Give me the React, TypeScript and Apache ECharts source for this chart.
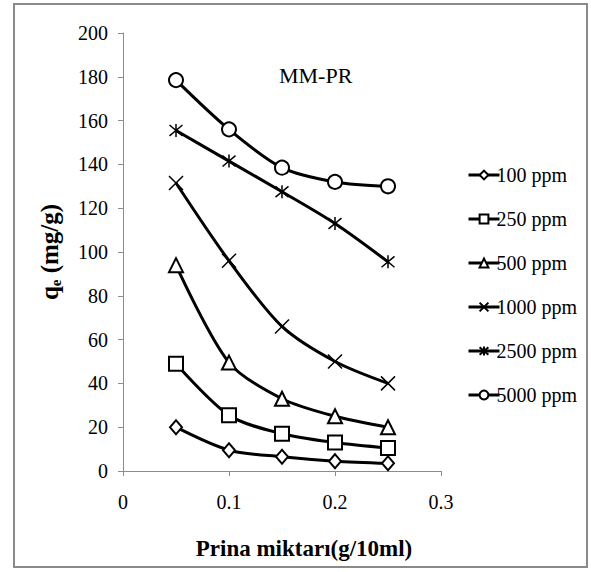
import React, { useEffect, useRef } from "react";
import * as echarts from "echarts";

const xValues = [0.05, 0.1, 0.15, 0.2, 0.25];
const seriesNames = ["100 ppm", "250 ppm", "500 ppm", "1000 ppm", "2500 ppm", "5000 ppm"];
const ppm100 = [20, 9.5, 6.5, 4.5, 3.5];
const ppm250 = [49, 25.5, 17, 13, 10.5];
const ppm500 = [94, 49.5, 33, 25, 20];
const ppm1000 = [131.5, 96, 66, 50, 40];
const ppm2500 = [155.5, 141.5, 127.5, 113, 95.5];
const ppm5000 = [178.5, 156, 138.5, 132, 130];
const seriesValues = [ppm100, ppm250, ppm500, ppm1000, ppm2500, ppm5000];

const X_PATH = "path://M0,0L10,10M10,0L0,10";
const STAR_PATH = "path://M0,0L10,10M10,0L0,10M5,-1L5,11";
const symbols = ["emptyDiamond", "emptyRect", "emptyTriangle", X_PATH, STAR_PATH, "emptyCircle"];
const symbolSizes: any[] = [[12, 14], 14, [14, 14], 14, [13, 13], 14];

const FONT = "'Liberation Serif', 'Times New Roman', serif";

export default function App() {
  const ref = useRef<HTMLDivElement>(null);
  useEffect(() => {
    document.body.style.margin = "0";
    const chart = echarts.init(ref.current!, null, { renderer: "svg" });
    chart.setOption({
      animation: false,
      backgroundColor: "#fff",
      textStyle: { fontFamily: FONT, color: "#000" },
      grid: { left: 123, top: 33, right: 150, bottom: 101 },
      title: {
        text: "MM-PR",
        left: 274,
        top: 59,
        textStyle: { fontFamily: FONT, fontWeight: "normal", fontSize: 22, color: "#000" },
      },
      legend: {
        orient: "vertical",
        left: 462,
        top: 160,
        itemWidth: 31,
        itemHeight: 11,
        itemGap: 24,
        data: seriesNames,
        lineStyle: { width: 3, color: "#000" },
        textStyle: { fontFamily: FONT, fontSize: 20, color: "#000", padding: [0, 0, 0, -8] },
      },
      xAxis: {
        type: "value",
        min: 0,
        max: 0.3,
        interval: 0.1,
        splitLine: { show: false },
        axisLine: { lineStyle: { color: "#8c8c8c", width: 1 } },
        axisTick: { show: true, length: 5, lineStyle: { color: "#8c8c8c" } },
        axisLabel: { fontFamily: FONT, fontSize: 20, color: "#000", margin: 21 },
      },
      yAxis: {
        type: "value",
        min: 0,
        max: 200,
        interval: 20,
        name: "{q|q}{e|e}{q| (mg/g)}",
        nameLocation: "middle",
        nameGap: 60,
        nameTextStyle: {
          rich: {
            q: { fontFamily: FONT, fontWeight: "bold", fontSize: 25, color: "#000", lineHeight: 28 },
            e: { fontFamily: FONT, fontWeight: "bold", fontSize: 15, color: "#000", lineHeight: 28, verticalAlign: "bottom", padding: [10, 0, 0, 0] },
          },
        },
        splitLine: { show: false },
        axisLine: { show: true, lineStyle: { color: "#8c8c8c", width: 1 } },
        axisTick: { show: true, length: 5, lineStyle: { color: "#8c8c8c" } },
        axisLabel: { fontFamily: FONT, fontSize: 20, color: "#000", margin: 15 },
      },
      graphic: [
        {
          type: "rect",
          shape: { x: 14, y: 4, width: 573, height: 563 },
          style: { fill: "none", stroke: "#8a8a8a", lineWidth: 2 },
          silent: true,
        },
        {
          type: "text",
          x: 304,
          y: 548,
          style: {
            text: "Prina miktarı(g/10ml)",
            fontFamily: FONT,
            fontWeight: "bold",
            fontSize: 23,
            fill: "#000",
            align: "center",
            verticalAlign: "middle",
          },
          silent: true,
        },
      ],
      series: seriesNames.map((name, i) => ({
        name,
        type: "line",
        smooth: 0.3,
        data: xValues.map((x, j) => [x, seriesValues[i][j]]),
        symbol: symbols[i],
        symbolSize: symbolSizes[i],
        showAllSymbol: true,
        lineStyle: { color: "#000", width: 3 },
        itemStyle: { color: "#000", borderColor: "#000", borderWidth: 1.5 },
        z: 2,
      })),
    });
    return () => chart.dispose();
  }, []);
  return <div ref={ref} style={{ width: 591, height: 572 }} />;
}
